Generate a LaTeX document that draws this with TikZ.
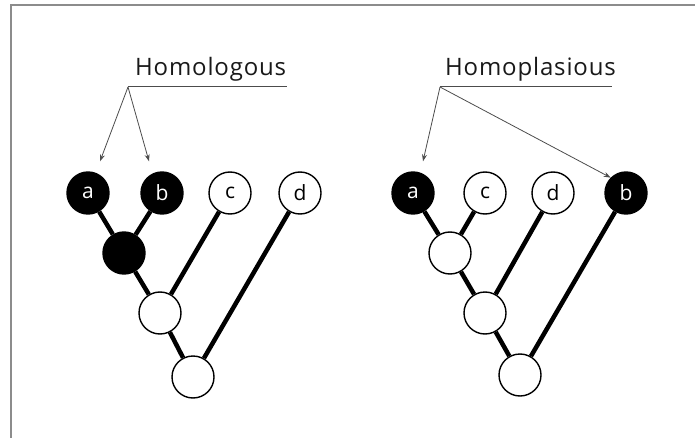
\documentclass[tikz,border=0pt]{standalone}
\usepackage{fontspec}
\setmainfont{Open Sans}
\newfontfamily\spacedsans[LetterSpace=3.5]{Open Sans}
\usetikzlibrary{arrows.meta}
\tikzset{
statenode/.style={
  circle,
  draw=black,
  line width=1.4pt,
  minimum size=42pt,
  inner sep=0pt,
  font=\fontsize{21}{21}\selectfont
},
derived/.style={statenode, fill=black, text=white},
primitive/.style={statenode, fill=white},
branch/.style={line width=4.5pt, draw=black},
pointer/.style={
  -{Stealth[length=7pt,width=5pt]},
  line width=0.8pt,
  draw=black!70
},
caption/.style={font=\spacedsans\fontsize{24}{24}\selectfont, text=black!90, inner sep=0pt, anchor=base west}
}

\begin{document}
\begin{tikzpicture}[x=1pt,y=-1pt]
\useasboundingbox (0,0) rectangle (695,438);
\draw[black!45, line width=2pt] (11,438) -- (11,5) -- (695,5);

% left tree: a and b share a derived ancestor
\node[derived] (la) at (88,193) {a};
\node[derived] (lb) at (162,193) {b};
\node[primitive] (lc) at (230,193) {c};
\node[primitive] (ld) at (300,193) {d};
\node[derived] (lab) at (124,253) {};
\node[primitive] (labc) at (160,313) {};
\node[primitive] (lroot) at (193,377) {};

\draw[branch] (la) -- (lab);
\draw[branch] (lb) -- (lab);
\draw[branch] (lab) -- (labc);
\draw[branch] (lc) -- (labc);
\draw[branch] (labc) -- (lroot);
\draw[branch] (ld) -- (lroot);

\node[caption] (lname) at (135,76) {Homologous};
\coordinate (lfork) at (128,87);
\coordinate (lend) at (287,87);
\draw[line width=1pt, black!70] (lfork) -- (lend);
\draw[pointer] (lfork) -- ([xshift=12pt,yshift=10pt]la.north);
\draw[pointer] (lfork) -- ([xshift=-13pt,yshift=10pt]lb.north);

% right tree: b gained the state on its own
\node[derived] (ra) at (413,193) {a};
\node[primitive] (rc) at (485,193) {c};
\node[primitive] (rd) at (553,193) {d};
\node[derived] (rb) at (626,193) {b};
\node[primitive] (rac) at (450,253) {};
\node[primitive] (racd) at (485,313) {};
\node[primitive] (rroot) at (520,375) {};

\draw[branch] (ra) -- (rac);
\draw[branch] (rc) -- (rac);
\draw[branch] (rac) -- (racd);
\draw[branch] (rd) -- (racd);
\draw[branch] (racd) -- (rroot);
\draw[branch] (rb) -- (rroot);

\node[caption] (rname) at (445,76) {Homoplasious};
\coordinate (rfork) at (440,87);
\coordinate (rend) at (612,87);
\draw[line width=1pt, black!70] (rfork) -- (rend);
\draw[pointer] (rfork) -- ([xshift=10pt,yshift=10pt]ra.north);
\draw[pointer] (rfork) -- (rb.north west);

\end{tikzpicture}
\end{document}
